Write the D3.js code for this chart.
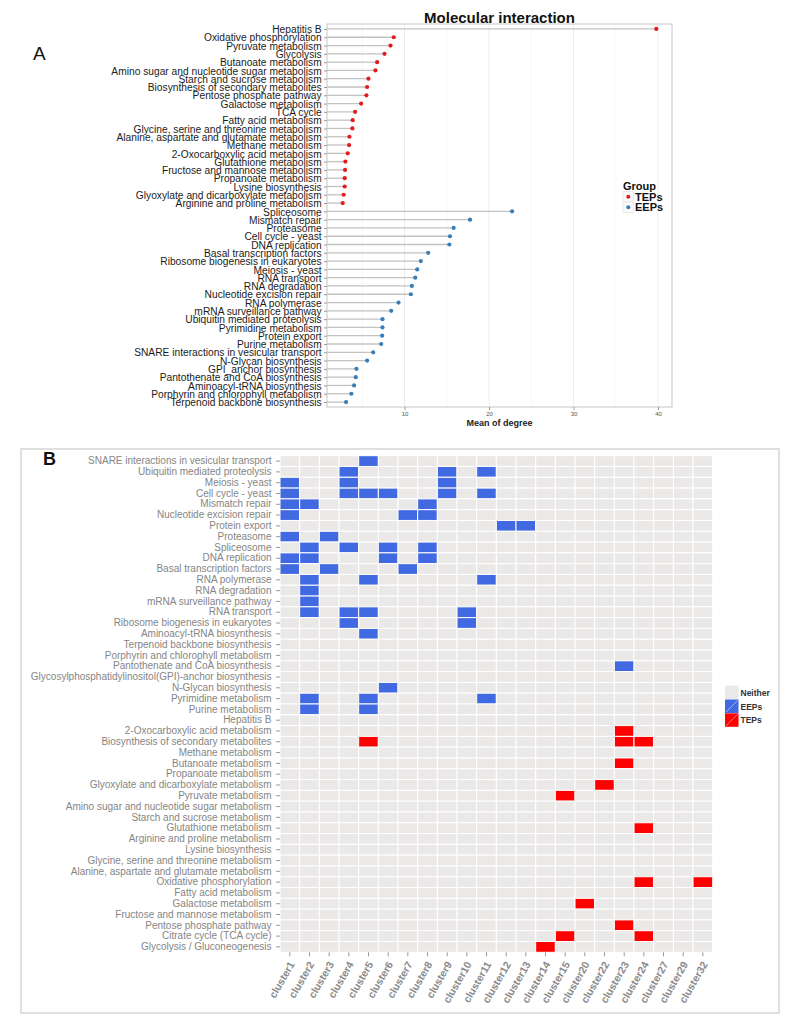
<!DOCTYPE html>
<html>
<head>
<meta charset="utf-8">
<script src="https://cdn.jsdelivr.net/npm/d3@7"></script>
<style>
  body { margin: 0; background: #fff; }
  svg { font-family: "Liberation Sans", Arial, sans-serif; }
</style>
</head>
<body>
<div id="chart"></div>
<script>
/****** DATA ********/
// panel A: mean degree per pathway
const tepPathways = ["Hepatitis B", "Oxidative phosphorylation", "Pyruvate metabolism", "Glycolysis",
  "Butanoate metabolism", "Amino sugar and nucleotide sugar metabolism", "Starch and sucrose metabolism",
  "Biosynthesis of secondary metabolites", "Pentose phosphate pathway", "Galactose metabolism", "TCA cycle",
  "Fatty acid metabolism", "Glycine, serine and threonine metabolism", "Alanine, aspartate and glutamate metabolism",
  "Methane metabolism", "2-Oxocarboxylic acid metabolism", "Glutathione metabolism", "Fructose and mannose metabolism",
  "Propanoate metabolism", "Lysine biosynthesis", "Glyoxylate and dicarboxylate metabolism", "Arginine and proline metabolism"];
const tepDegree = [39.8, 8.73, 8.34, 7.63, 6.76, 6.56, 5.73, 5.57, 5.49, 4.86, 4.15,
  3.87, 3.83, 3.48, 3.44, 3.28, 3.0, 2.96, 2.92, 2.92, 2.8, 2.68];

const eepPathways = ["Spliceosome", "Mismatch repair", "Proteasome", "Cell cycle - yeast", "DNA replication",
  "Basal transcription factors", "Ribosome biogenesis in eukaryotes", "Meiosis - yeast", "RNA transport",
  "RNA degradation", "Nucleotide excision repair", "RNA polymerase", "mRNA surveillance pathway",
  "Ubiquitin mediated proteolysis", "Pyrimidine metabolism", "Protein export", "Purine metabolism",
  "SNARE interactions in vesicular transport", "N-Glycan biosynthesis", "GPI_anchor biosynthesis",
  "Pantothenate and CoA biosynthesis", "Aminoacyl-tRNA biosynthesis", "Porphyrin and chlorophyll metabolism",
  "Terpenoid backbone biosynthesis"];
const eepDegree = [22.73, 17.75, 15.81, 15.38, 15.3, 12.8, 11.93, 11.5, 11.27, 10.87, 10.75, 9.29, 8.42,
  7.39, 7.39, 7.35, 7.24, 6.29, 5.57, 4.31, 4.23, 4.03, 3.71, 3.08];

const groupsA = ["TEPs", "EEPs"];
const xTicksA = [10, 20, 30, 40];

// panel B: pathway x cluster membership
const clusters = ["cluster1", "cluster2", "cluster3", "cluster4", "cluster5", "cluster6", "cluster7",
  "cluster8", "cluster9", "cluster10", "cluster11", "cluster12", "cluster13", "cluster14", "cluster15",
  "cluster20", "cluster22", "cluster23", "cluster24", "cluster27", "cluster29", "cluster32"];

const heatRows = ["SNARE interactions in vesicular transport", "Ubiquitin mediated proteolysis", "Meiosis - yeast",
  "Cell cycle - yeast", "Mismatch repair", "Nucleotide excision repair", "Protein export", "Proteasome",
  "Spliceosome", "DNA replication", "Basal transcription factors", "RNA polymerase", "RNA degradation",
  "mRNA surveillance pathway", "RNA transport", "Ribosome biogenesis in eukaryotes", "Aminoacyl-tRNA biosynthesis",
  "Terpenoid backbone biosynthesis", "Porphyrin and chlorophyll metabolism", "Pantothenate and CoA biosynthesis",
  "Glycosylphosphatidylinositol(GPI)-anchor biosynthesis", "N-Glycan biosynthesis", "Pyrimidine metabolism",
  "Purine metabolism", "Hepatitis B", "2-Oxocarboxylic acid metabolism", "Biosynthesis of secondary metabolites",
  "Methane metabolism", "Butanoate metabolism", "Propanoate metabolism", "Glyoxylate and dicarboxylate metabolism",
  "Pyruvate metabolism", "Amino sugar and nucleotide sugar metabolism", "Starch and sucrose metabolism",
  "Glutathione metabolism", "Arginine and proline metabolism", "Lysine biosynthesis",
  "Glycine, serine and threonine metabolism", "Alanine, aspartate and glutamate metabolism",
  "Oxidative phosphorylation", "Fatty acid metabolism", "Galactose metabolism", "Fructose and mannose metabolism",
  "Pentose phosphate pathway", "Citrate cycle (TCA cycle)", "Glycolysis / Gluconeogenesis"];

const eepTiles = [
  ["SNARE interactions in vesicular transport", "cluster5"],
  ["Ubiquitin mediated proteolysis", "cluster4"], ["Ubiquitin mediated proteolysis", "cluster9"], ["Ubiquitin mediated proteolysis", "cluster11"],
  ["Meiosis - yeast", "cluster1"], ["Meiosis - yeast", "cluster4"], ["Meiosis - yeast", "cluster9"],
  ["Cell cycle - yeast", "cluster1"], ["Cell cycle - yeast", "cluster4"], ["Cell cycle - yeast", "cluster5"],
  ["Cell cycle - yeast", "cluster6"], ["Cell cycle - yeast", "cluster9"], ["Cell cycle - yeast", "cluster11"],
  ["Mismatch repair", "cluster1"], ["Mismatch repair", "cluster2"], ["Mismatch repair", "cluster8"],
  ["Nucleotide excision repair", "cluster1"], ["Nucleotide excision repair", "cluster7"], ["Nucleotide excision repair", "cluster8"],
  ["Protein export", "cluster12"], ["Protein export", "cluster13"],
  ["Proteasome", "cluster1"], ["Proteasome", "cluster3"],
  ["Spliceosome", "cluster2"], ["Spliceosome", "cluster4"], ["Spliceosome", "cluster6"], ["Spliceosome", "cluster8"],
  ["DNA replication", "cluster1"], ["DNA replication", "cluster2"], ["DNA replication", "cluster6"], ["DNA replication", "cluster8"],
  ["Basal transcription factors", "cluster1"], ["Basal transcription factors", "cluster3"], ["Basal transcription factors", "cluster7"],
  ["RNA polymerase", "cluster2"], ["RNA polymerase", "cluster5"], ["RNA polymerase", "cluster11"],
  ["RNA degradation", "cluster2"],
  ["mRNA surveillance pathway", "cluster2"],
  ["RNA transport", "cluster2"], ["RNA transport", "cluster4"], ["RNA transport", "cluster5"], ["RNA transport", "cluster10"],
  ["Ribosome biogenesis in eukaryotes", "cluster4"], ["Ribosome biogenesis in eukaryotes", "cluster10"],
  ["Aminoacyl-tRNA biosynthesis", "cluster5"],
  ["Pantothenate and CoA biosynthesis", "cluster23"],
  ["N-Glycan biosynthesis", "cluster6"],
  ["Pyrimidine metabolism", "cluster2"], ["Pyrimidine metabolism", "cluster5"], ["Pyrimidine metabolism", "cluster11"],
  ["Purine metabolism", "cluster2"], ["Purine metabolism", "cluster5"]
];

const tepTiles = [
  ["2-Oxocarboxylic acid metabolism", "cluster23"],
  ["Biosynthesis of secondary metabolites", "cluster5"], ["Biosynthesis of secondary metabolites", "cluster23"],
  ["Biosynthesis of secondary metabolites", "cluster24"],
  ["Butanoate metabolism", "cluster23"],
  ["Glyoxylate and dicarboxylate metabolism", "cluster22"],
  ["Pyruvate metabolism", "cluster15"],
  ["Glutathione metabolism", "cluster24"],
  ["Oxidative phosphorylation", "cluster24"], ["Oxidative phosphorylation", "cluster32"],
  ["Galactose metabolism", "cluster20"],
  ["Pentose phosphate pathway", "cluster23"],
  ["Citrate cycle (TCA cycle)", "cluster15"], ["Citrate cycle (TCA cycle)", "cluster24"],
  ["Glycolysis / Gluconeogenesis", "cluster14"]
];

const statusLabels = ["Neither", "EEPs", "TEPs"];

/****** SETTINGS ********/
const settings = {
  width: 795,
  height: 1028,
  a: { left: 327, right: 672, top: 24, bottom: 407 },
  b: { left: 280, right: 712.7, top: 455.7, bottom: 952.3 },
  groupColors: ["#e41a1c", "#377eb8"],
  statusColors: ["#ebe8e8", "#4169e1", "#ff0000"],
};

const svg = d3.select("#chart").append("svg")
  .attr("width", settings.width)
  .attr("height", settings.height);

/****** PANEL A ********/
const drawPanelA = function() {
  const p = settings.a;
  const rows = tepPathways.concat(eepPathways);
  const deg = tepDegree.concat(eepDegree);
  const grp = rows.map((d, i) => i < tepPathways.length ? groupsA[0] : groupsA[1]);

  // ggplot-like 5% expansion
  const ext = d3.extent(deg), pad = (ext[1] - ext[0]) * 0.05;
  const x = d3.scaleLinear().domain([ext[0] - pad, ext[1] + pad]).range([p.left, p.right]);
  const y = d3.scalePoint().domain(rows).range([p.top, p.bottom]).padding(0.6);
  const col = d3.scaleOrdinal().domain(groupsA).range(settings.groupColors);

  const g = svg.append("g");

  // grid
  const minor = d3.range(5, 41, 10);
  g.selectAll(".minor").data(minor).join("line")
    .attr("x1", d => x(d)).attr("x2", d => x(d))
    .attr("y1", p.top).attr("y2", p.bottom)
    .attr("stroke", "#f6f6f6").attr("stroke-width", 0.8);
  g.selectAll(".major").data(xTicksA).join("line")
    .attr("x1", d => x(d)).attr("x2", d => x(d))
    .attr("y1", p.top).attr("y2", p.bottom)
    .attr("stroke", "#ececec").attr("stroke-width", 1);

  // segments + points
  g.selectAll(".seg").data(rows).join("line")
    .attr("x1", p.left).attr("x2", (d, i) => x(deg[i]))
    .attr("y1", d => y(d)).attr("y2", d => y(d))
    .attr("stroke", "#c2c2c2").attr("stroke-width", 1.3);
  g.selectAll(".pt").data(rows).join("circle")
    .attr("cx", (d, i) => x(deg[i])).attr("cy", d => y(d))
    .attr("r", 2.1).attr("fill", (d, i) => col(grp[i]));

  g.append("rect")
    .attr("x", p.left).attr("y", p.top)
    .attr("width", p.right - p.left).attr("height", p.bottom - p.top)
    .attr("fill", "none").attr("stroke", "#cfcfcf").attr("stroke-width", 1.2);

  // axes
  const ax = g.append("g").attr("transform", `translate(${p.left},0)`)
    .call(d3.axisLeft(y).tickSize(3).tickPadding(3));
  ax.attr("font-family", null).attr("font-size", null);
  ax.select(".domain").remove();
  ax.selectAll(".tick line").attr("stroke", "#9a9a9a");
  ax.selectAll(".tick text").attr("font-size", 11.5).attr("fill", "#1c1c1c")
    .attr("transform", "scale(0.89,1)");

  const bx = g.append("g").attr("transform", `translate(0,${p.bottom})`)
    .call(d3.axisBottom(x).tickValues(xTicksA).tickSize(3).tickPadding(2));
  bx.attr("font-family", null).attr("font-size", null);
  bx.select(".domain").remove();
  bx.selectAll(".tick line").attr("stroke", "#9a9a9a");
  bx.selectAll(".tick text").attr("font-size", 6).attr("fill", "#555");

  g.append("text").attr("x", (p.left + p.right) / 2).attr("y", 426)
    .attr("text-anchor", "middle").attr("font-size", 9).attr("font-weight", "bold")
    .attr("fill", "#222").text("Mean of degree");

  g.append("text").attr("x", (p.left + p.right) / 2).attr("y", 22.5)
    .attr("text-anchor", "middle").attr("font-size", 15).attr("font-weight", "bold")
    .attr("fill", "#111").text("Molecular interaction");

  // legend
  const lg = g.append("g").attr("transform", "translate(623,0)");
  lg.append("text").attr("x", 0).attr("y", 189.5).attr("font-size", 11)
    .attr("font-weight", "bold").attr("fill", "#111").text("Group");
  const items = lg.selectAll(".item").data(groupsA).join("g")
    .attr("transform", (d, i) => `translate(0,${196.7 + i * 10.6})`);
  items.append("rect").attr("x", 0).attr("y", -5.3).attr("width", 10.6).attr("height", 10.6)
    .attr("fill", "#fbfbfb").attr("stroke", "#e2e2e2").attr("stroke-width", 0.7);
  items.append("circle").attr("cx", 5.3).attr("cy", 0).attr("r", 2).attr("fill", d => col(d));
  items.append("text").attr("x", 12).attr("y", 4).attr("font-size", 11)
    .attr("font-weight", "bold").attr("fill", "#111").text(d => d);

  svg.append("text").attr("x", 33).attr("y", 59.5).attr("font-size", 19)
    .attr("fill", "#111").text("A");
}

/****** PANEL B ********/
const drawPanelB = function() {
  const p = settings.b;
  const g = svg.append("g");

  g.append("rect").attr("x", 21).attr("y", 449).attr("width", 758).attr("height", 564)
    .attr("fill", "none").attr("stroke", "#e0e0e0").attr("stroke-width", 2);

  const x = d3.scaleBand().domain(clusters).range([p.left, p.right]);
  const y = d3.scaleBand().domain(heatRows).range([p.top, p.bottom]);
  const fill = d3.scaleOrdinal().domain(statusLabels).range(settings.statusColors);

  const key = (r, c) => r + "|" + c;
  const status = new Map();
  eepTiles.forEach(t => status.set(key(t[0], t[1]), "EEPs"));
  tepTiles.forEach(t => status.set(key(t[0], t[1]), "TEPs"));

  const cells = [];
  heatRows.forEach(r => clusters.forEach(c => {
    cells.push({ row: r, cluster: c, status: status.get(key(r, c)) || "Neither" });
  }));

  g.selectAll(".tile").data(cells).join("rect")
    .attr("x", d => x(d.cluster)).attr("y", d => y(d.row))
    .attr("width", x.bandwidth()).attr("height", y.bandwidth())
    .attr("fill", d => fill(d.status))
    .attr("stroke", "#fff").attr("stroke-width", 1);

  const ay = g.append("g").attr("transform", `translate(${p.left},0)`)
    .call(d3.axisLeft(y).tickSize(4).tickPadding(4.5));
  ay.attr("font-family", null).attr("font-size", null);
  ay.select(".domain").remove();
  ay.selectAll(".tick line").attr("stroke", "#9a9a9a");
  ay.selectAll(".tick text").attr("font-size", 10).attr("fill", "#858585");

  const ax = g.append("g").attr("transform", `translate(0,${p.bottom})`)
    .call(d3.axisBottom(x).tickSize(4));
  ax.attr("font-family", null).attr("font-size", null);
  ax.select(".domain").remove();
  ax.selectAll(".tick line").attr("stroke", "#9a9a9a");
  ax.selectAll(".tick text")
    .attr("x", 0).attr("y", 0).attr("dy", "0.35em")
    .attr("text-anchor", "end")
    .attr("transform", "translate(2,10) rotate(-60)")
    .attr("font-size", 10.5).attr("font-weight", "bold").attr("fill", "#8a8a8a");

  // legend
  const lg = g.append("g").attr("transform", "translate(725,685.7)");
  const items = lg.selectAll(".item").data(statusLabels).join("g")
    .attr("transform", (d, i) => `translate(0,${i * 13.8})`);
  items.append("rect").attr("width", 13.5).attr("height", 13.5)
    .attr("fill", d => fill(d));
  items.filter(d => d !== "Neither").append("line")
    .attr("x1", 1).attr("y1", 12.5).attr("x2", 12.5).attr("y2", 1)
    .attr("stroke", "#fff").attr("stroke-opacity", 0.7).attr("stroke-width", 0.7);
  items.append("text").attr("x", 15.5).attr("y", 10).attr("font-size", 8.5)
    .attr("font-weight", "bold").attr("fill", "#333").text(d => d);

  svg.append("text").attr("x", 43).attr("y", 465).attr("font-size", 18)
    .attr("font-weight", "bold").attr("fill", "#111").text("B");
}

drawPanelA();
drawPanelB();
</script>
</body>
</html>
